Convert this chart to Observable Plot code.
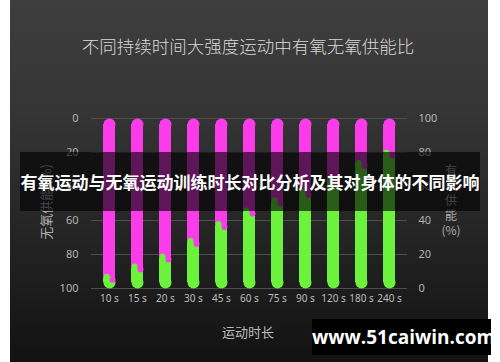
<!DOCTYPE html>
<html>
<head>
<meta charset="utf-8">
<script src="https://cdn.jsdelivr.net/npm/d3@7"></script>
<script src="https://cdn.jsdelivr.net/npm/@observablehq/plot@0.6"></script>
<style>
  html, body { margin: 0; padding: 0; background: #fff; }
  #wrap { position: relative; width: 500px; height: 362px; overflow: hidden; font-family: "Noto Sans CJK SC", "Noto Sans", sans-serif; }
  #panel { position: absolute; left: 10px; top: 0; width: 478px; height: 362px;
           background: linear-gradient(to bottom, #3e3e3e 0%, #353535 30%, #242424 65%, #121212 100%); }
  #chart { position: absolute; left: 0; top: 0; }
  .t { position: absolute; white-space: nowrap; }
  #title { left: 0; width: 496px; top: 33px; text-align: center; font-size: 17.5px; color: #d8d8d8; font-weight: 300; }
  #xlab { left: 0; width: 496px; top: 322px; text-align: center; font-size: 13px; color: #bdbdbd; }
  #ylabL { left: 45px; top: 202px; transform: translate(-50%, -50%) rotate(-90deg); font-size: 13px; color: #b0b0b0; }
  #ylabR { left: 437px; top: 162px; width: 28px; text-align: center; font-size: 12px; line-height: 15px; color: #b0b0b0; }
  #banner { left: 20px; top: 152px; width: 460px; height: 59px; background: rgba(0,0,0,0.62);
            color: #fff; font-weight: 700; font-size: 17px; line-height: 59px; text-align: center; }
  #wm { left: 312px; top: 319px; width: 179px; height: 36px; background: #000; color: #fff;
        font-family: "Open Sans", "DejaVu Sans", sans-serif; font-weight: 700; font-size: 19px; line-height: 36px; text-align: center; }
</style>
</head>
<body>
<div id="wrap">
  <div id="panel"></div>
  <div id="chart"></div>
  <div class="t" id="title">不同持续时间大强度运动中有氧无氧供能比</div>
  <div class="t" id="xlab">运动时长</div>
  <div class="t" id="ylabL">无氧供能 (%)</div>
  <div class="t" id="ylabR">有<br>氧<br>供<br>能<br>(%)</div>
  <div class="t" id="banner">有氧运动与无氧运动训练时长对比分析及其对身体的不同影响</div>
  <div class="t" id="wm">www.51caiwin.com</div>
</div>
<script>
const durations = ["10 s", "15 s", "20 s", "30 s", "45 s", "60 s", "75 s", "90 s", "120 s", "180 s", "240 s"];
const aerobic = [6, 12, 18, 27, 37, 45, 51, 56, 63, 73, 79];
const yTicks = [0, 20, 40, 60, 80, 100];

const magenta = "#fa3cea";
const green = "#6cf23a";

const data = durations.map((d, i) => ({ label: d, aer: aerobic[i], anaer: 100 - aerobic[i] }));

const chart = Plot.plot({
  width: 500,
  height: 362,
  marginLeft: 91,
  marginRight: 93,
  marginTop: 118,
  marginBottom: 74,
  style: { background: "transparent", color: "#b3b3b3", fontSize: "11px", fontFamily: "'Noto Sans', sans-serif" },
  x: { type: "band", domain: durations, paddingInner: 0.585, paddingOuter: 0.26, label: null },
  y: { domain: [0, 100], reverse: true, label: null },
  marks: [
    Plot.ruleY(yTicks, { stroke: "#4e4e4e", strokeWidth: 1 }),
    Plot.axisY({ anchor: "left", ticks: yTicks, tickSize: 0, tickPadding: 13, label: null, fontSize: 11, fill: "#b3b3b3" }),
    Plot.axisY({ anchor: "right", ticks: yTicks, tickSize: 0, tickPadding: 11, label: null, tickFormat: d => 100 - d, fontSize: 11, fill: "#b3b3b3" }),
    Plot.axisX({ anchor: "bottom", tickSize: 0, tickPadding: 6, label: null, fontSize: 10, fill: "#bdbdbd" }),
    // anaerobic (magenta) from top
    Plot.barY(data, { x: "label", y1: 0, y2: "anaer", insetTop: 6, fill: magenta }),
    Plot.dot(data, { x: "label", y: 0, r: 6, dy: 6, fill: magenta, stroke: null }),
    // aerobic (green) from bottom
    Plot.barY(data, { x: "label", y1: "anaer", y2: 100, insetBottom: 6, fill: green }),
    Plot.dot(data, { x: "label", y: 100, r: 6, dy: -6, fill: green, stroke: null }),
    // S-shaped curl at the boundary
    Plot.dot(data, { x: "label", y: "anaer", r: 3, dx: -3, dy: -1.5, fill: green, stroke: null }),
    Plot.dot(data, { x: "label", y: "anaer", r: 3, dx: 3, dy: 1.5, fill: magenta, stroke: null })
  ]
});
document.getElementById("chart").appendChild(chart);
</script>
</body>
</html>
